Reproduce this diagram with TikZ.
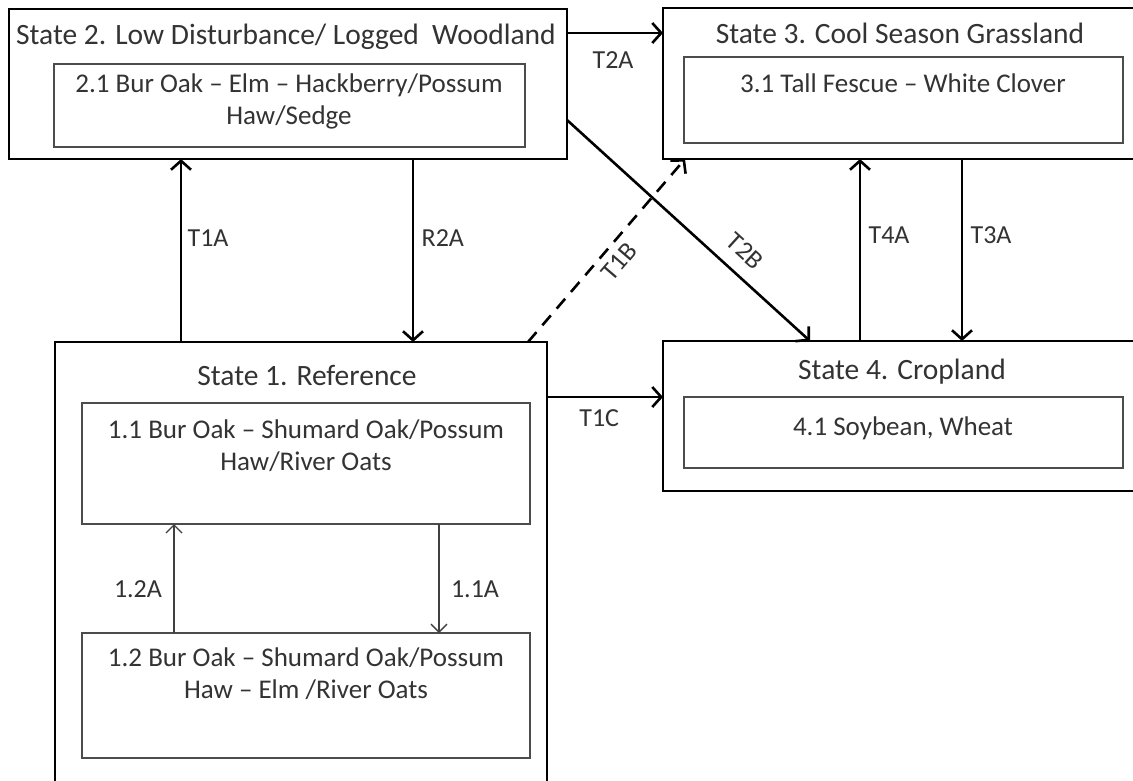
\documentclass[tikz,border=0pt]{standalone}
\usepackage{fontspec}
\setmainfont{Carlito}
\usetikzlibrary{arrows.meta,positioning}

\begin{document}
\begin{tikzpicture}[x=1pt,y=-1pt]
\tikzset{state/.style={draw,line width=2.8pt,inner sep=0pt,outer sep=0pt},
  phase/.style={draw=black!70,line width=1.8pt,inner sep=0pt,outer sep=0pt},
  stitle/.style={text=black!80,font=\fontsize{29.5}{34}\selectfont},
  txt/.style={text=black!80,align=center,font=\fontsize{27}{32}\selectfont},
  lbl/.style={text=black!80,font=\fontsize{26}{30}\selectfont},
  arr/.style={line width=2.6pt,-{Straight Barb[length=9pt,width=20pt]}},
  arrin/.style={line width=1.4pt,draw=black!75,-{Straight Barb[length=8pt,width=16pt]}}}

\clip (0,0) rectangle (1133,780);
\fill[white] (0,0) rectangle (1133,780);

\node[state,minimum width=558pt,minimum height=150pt] (S2) at (288,84) {};
\node[state,minimum width=487pt,minimum height=151pt] (S3) at (906.5,83.5) {};
\node[state,minimum width=492pt,minimum height=458pt] (S1) at (301,571) {};
\node[state,minimum width=487pt,minimum height=150pt] (S4) at (906.5,416) {};

\node[phase,minimum width=471pt,minimum height=83pt] (P21) at (289.5,105.5) {};
\node[phase,minimum width=439pt,minimum height=86pt] (P31) at (903.5,100) {};
\node[phase,minimum width=439pt,minimum height=71pt] (P41) at (903.5,432.5) {};
\node[phase,minimum width=448pt,minimum height=121pt] (P11) at (306,463.5) {};
\node[phase,minimum width=448pt,minimum height=125pt] (P12) at (306,695.5) {};

\node[stitle] (N2) at (286,37) {State 2. Low Disturbance/ Logged\ \ Woodland};
\node[stitle] (N3) at (900,33) {State 3. Cool Season Grassland};
\node[stitle] (N1) at (307,375) {State 1. Reference};
\node[stitle] (N4) at (902,372) {State 4. Cropland};

\node[txt] (X21) at (289,101) {2.1 Bur Oak – Elm – Hackberry/Possum\\Haw/Sedge};
\node[txt] (X31) at (903,83) {3.1 Tall Fescue – White Clover};
\node[txt] (X41) at (903,428) {4.1 Soybean, Wheat};
\node[txt] (X11) at (306,446) {1.1 Bur Oak – Shumard Oak/Possum\\Haw/River Oats};
\node[txt] (X12) at (306,674) {1.2 Bur Oak – Shumard Oak/Possum\\Haw – Elm /River Oats};

\draw[arr] (S2.east |- N3) -- (S3.west |- N3) node[lbl,pos=.48,below=14pt] (L2A) {T2A};
\draw[arr] (S1.east |- P41.north) -- (S4.west |- P41.north) node[lbl,pos=.45,below=8pt] (L1C) {T1C};
\draw[arr] ([xshift=126pt]S1.north west) -- ([xshift=126pt]S1.north west |- S2.south) node[lbl,pos=.57,right=2pt] (L1A) {T1A};
\draw[arr] ([xshift=358pt]S1.north west |- S2.south) -- ([xshift=358pt]S1.north west) node[lbl,pos=.43,right=4pt] (LR2A) {R2A};
\draw[arr] ([xshift=197pt]S4.north west) -- ([xshift=197pt]S4.north west |- S3.south) node[lbl,pos=.58,right=4pt] (L4A) {T4A};
\draw[arr] ([xshift=299pt]S4.north west |- S3.south) -- ([xshift=299pt]S4.north west) node[lbl,pos=.42,right=4pt] (L3A) {T3A};
\draw[arr] ([yshift=-36pt]S2.east) -- ([xshift=147pt]S4.north west) node[lbl,pos=.67,sloped,above=10pt] (L2B) {T2B};
\draw[arr,dash pattern=on 13pt off 9pt] ([xshift=-19pt]S1.north east) -- ([xshift=22pt]S3.south west) node[lbl,pos=.5,sloped,below=4pt] (L1B) {T1B};

\draw[arrin] ([xshift=92pt]P12.north west) -- ([xshift=92pt]P12.north west |- P11.south) node[lbl,pos=.4,left=8pt] (L12A) {1.2A};
\draw[arrin] ([xshift=357pt]P11.south west) -- ([xshift=357pt]P11.south west |- P12.north) node[lbl,pos=.6,right=8pt] (L11A) {1.1A};

\end{tikzpicture}
\end{document}
